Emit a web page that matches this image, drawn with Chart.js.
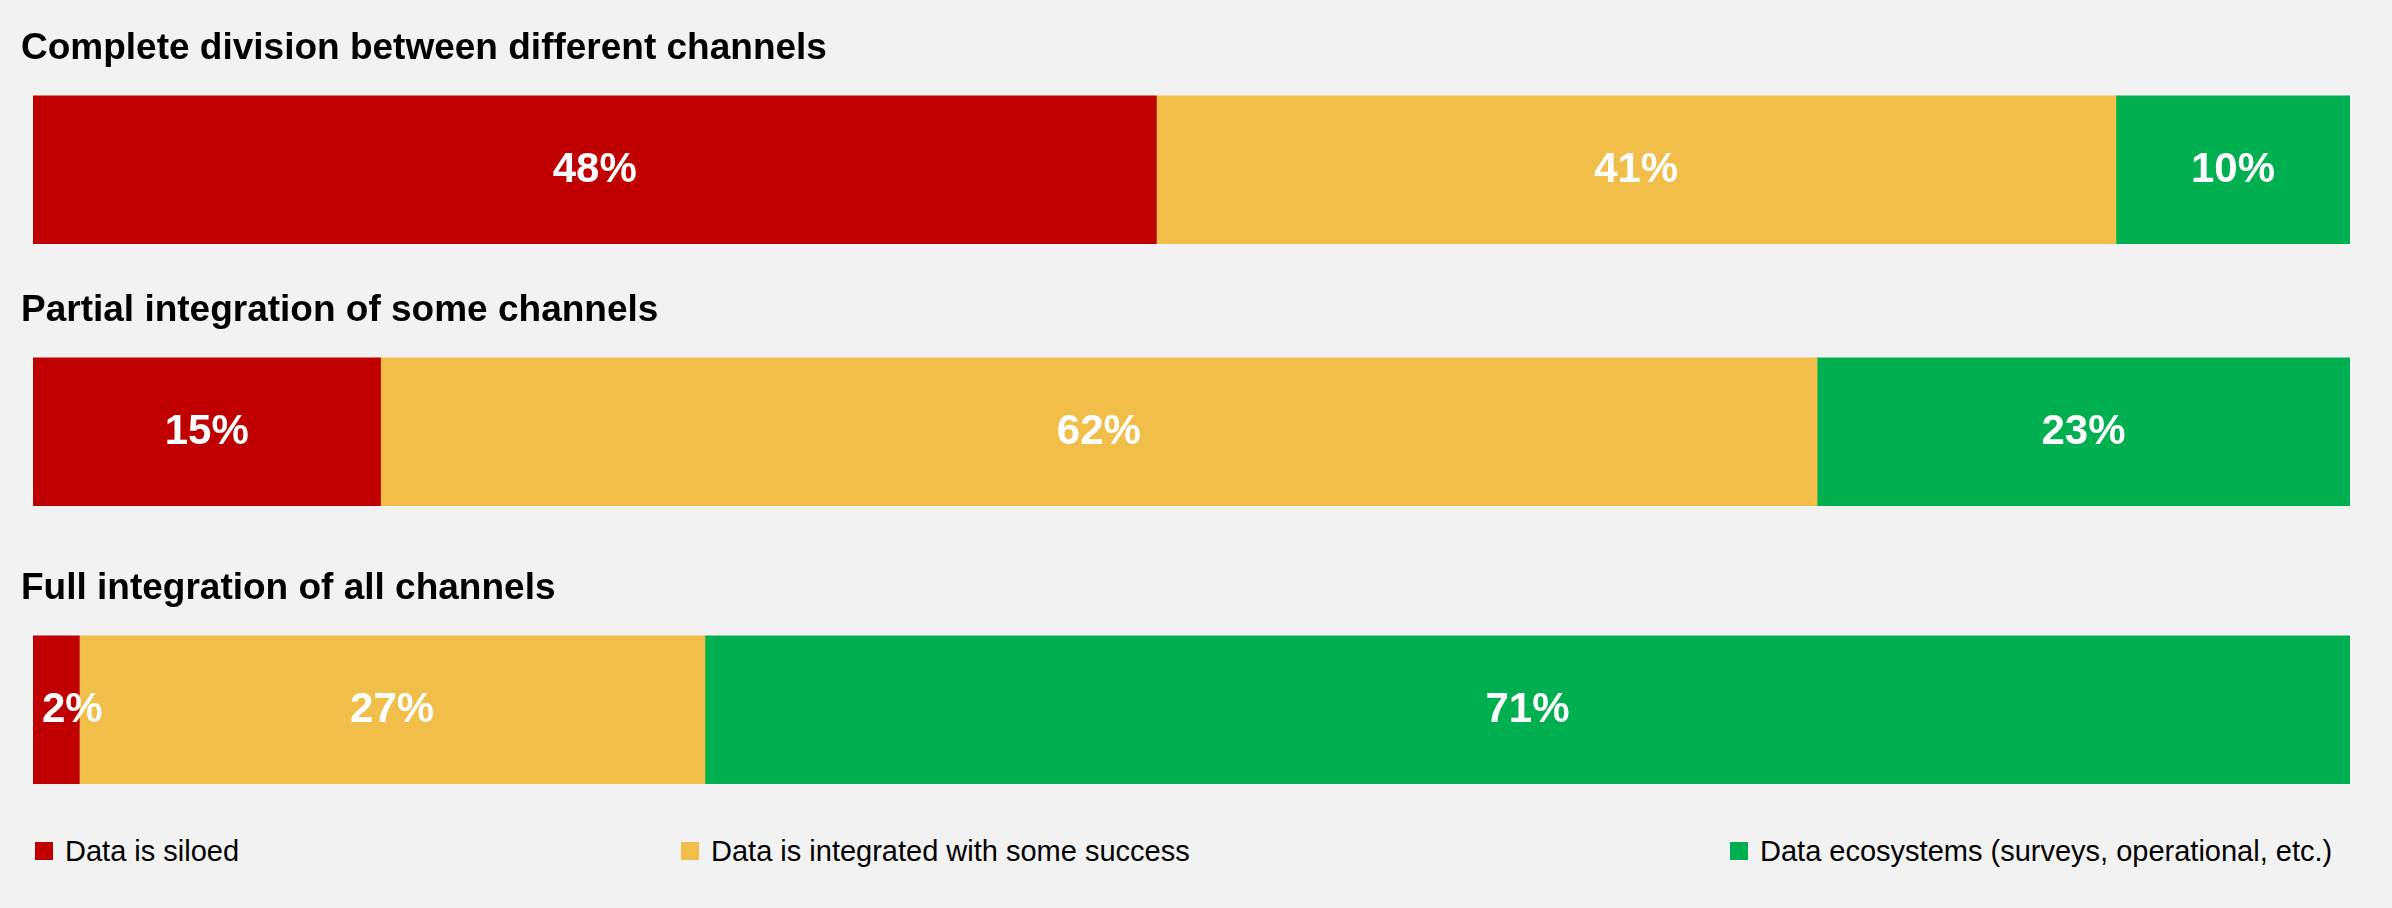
<!DOCTYPE html>
<html>
<head>
<meta charset="utf-8">
<script src="https://cdn.jsdelivr.net/npm/chart.js@4.4.1/dist/chart.umd.min.js"></script>
<style>
  html, body {
    margin: 0;
    padding: 0;
    background: #f2f2f2;
    font-family: "Liberation Sans", Arial, sans-serif;
  }
  #wrap {
    position: relative;
    width: 2392px;
    height: 908px;
    background: #f2f2f2;
  }
  .row {
    position: absolute;
    left: 21px;
    width: 2329px;
    height: 244px;
  }
  .legend-item {
    position: absolute;
    top: 836px;
    height: 30px;
    display: flex;
    align-items: center;
    font-size: 29px;
    color: #000;
    white-space: nowrap;
  }
  .legend-item span.box {
    display: inline-block;
    width: 18px;
    height: 18px;
    margin-right: 12px;
  }
</style>
</head>
<body>
<div id="wrap">
  <div class="row" style="top:0px"><canvas id="row0"></canvas></div>
  <div class="row" style="top:262px"><canvas id="row1"></canvas></div>
  <div class="row" style="top:540px"><canvas id="row2"></canvas></div>
  <div id="legend"></div>
</div>
<script>
// 各チャネル統合レベルごとのデータ状況（%）
const rowTitles = [
  "Complete division between different channels",
  "Partial integration of some channels",
  "Full integration of all channels",
];
const seriesNames = [
  "Data is siloed",
  "Data is integrated with some success",
  "Data ecosystems (surveys, operational, etc.)",
];
const siloed = [48, 15, 2];
const integrated = [41, 62, 27];
const ecosystems = [10, 23, 71];
const seriesColors = ["#c00000", "#f1be4a", "#00b050"];
const legendLeft = [35, 681, 1730];

const seriesValues = [siloed, integrated, ecosystems];
const FONT = '"Liberation Sans", Arial, sans-serif';

// バーの中央に白いパーセント表示
const segmentLabels = {
  id: "segmentLabels",
  afterDatasetsDraw(chart) {
    const ctx = chart.ctx;
    const area = chart.chartArea;
    ctx.save();
    ctx.fillStyle = "#ffffff";
    ctx.font = "bold 42px " + FONT;
    ctx.textAlign = "center";
    ctx.textBaseline = "middle";
    chart.data.datasets.forEach((ds, i) => {
      const meta = chart.getDatasetMeta(i);
      meta.data.forEach((bar, j) => {
        const text = ds.data[j] + "%";
        const w = ctx.measureText(text).width;
        let cx = (bar.base + bar.x) / 2;
        // 左端からはみ出さないように
        if (cx - w / 2 < area.left + 9) cx = area.left + 9 + w / 2;
        ctx.fillText(text, cx, bar.y + 1);
      });
    });
    ctx.restore();
  },
};

function renderRow(idx) {
  const canvas = document.getElementById("row" + idx);
  const total = seriesValues.reduce((s, arr) => s + arr[idx], 0);

  new Chart(canvas.getContext("2d"), {
    type: "bar",
    data: {
      labels: [rowTitles[idx]],
      datasets: seriesNames.map((name, k) => ({
        label: name,
        data: [seriesValues[k][idx]],
        backgroundColor: seriesColors[k],
        borderWidth: 0,
        barPercentage: 1,
        categoryPercentage: 1,
      })),
    },
    options: {
      indexAxis: "y",
      responsive: true,
      maintainAspectRatio: false,
      animation: false,
      layout: {
        padding: 0,
      },
      scales: {
        x: { stacked: true, display: false, min: 0, max: total },
        y: {
          stacked: true,
          display: true,
          ticks: { display: false },
          grid: { display: false },
          border: { display: false },
          // タイトルより少し右からバーを始める
          afterFit(scale) {
            scale.width = 12;
          },
        },
      },
      plugins: {
        legend: { display: false },
        tooltip: { enabled: false },
        title: {
          display: true,
          text: rowTitles[idx],
          align: "start",
          color: "#000000",
          font: { family: FONT, size: 37, weight: "bold", lineHeight: 1.2 },
          padding: { top: 27, bottom: 24 },
        },
      },
    },
    plugins: [segmentLabels],
  });
}

function renderLegend() {
  const legend = document.getElementById("legend");
  legend.innerHTML = seriesNames
    .map(
      (name, k) =>
        `<div class="legend-item" style="left:${legendLeft[k]}px">` +
        `<span class="box" style="background:${seriesColors[k]}"></span>${name}</div>`
    )
    .join("");
}

rowTitles.forEach((_, i) => renderRow(i));
renderLegend();
</script>
</body>
</html>
